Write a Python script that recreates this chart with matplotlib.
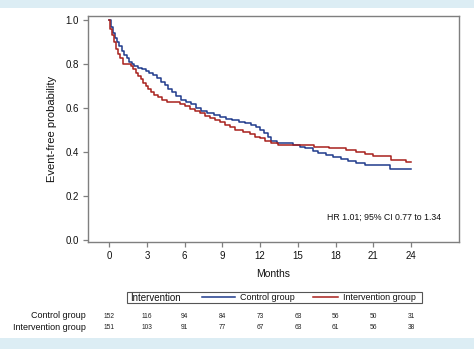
import matplotlib
matplotlib.use("Agg")
import matplotlib.pyplot as plt
from matplotlib.lines import Line2D
from matplotlib.patches import Rectangle
from matplotlib.transforms import blended_transform_factory

plt.rcParams['font.family'] = ['Liberation Sans', 'DejaVu Sans']

# Kaplan-Meier step estimates (months, event-free probability)
control_t = [0, 0.15, 0.3, 0.45, 0.6, 0.8, 1.0, 1.2, 1.4, 1.6, 1.8, 2.0, 2.3, 2.6, 2.9,
             3.2, 3.5, 3.8, 4.1, 4.4, 4.7, 5.0, 5.3, 5.7, 6.1, 6.5, 6.9, 7.3, 7.8, 8.3,
             8.8, 9.3, 9.8, 10.3, 10.8, 11.3, 11.7, 12.0, 12.3, 12.6, 12.9, 13.3, 14.6,
             15.2, 15.6, 16.2, 16.6, 17.2, 17.8, 18.4, 19.0, 19.6, 20.3, 22.3, 24.0]
control_s = [1.0, 0.97, 0.94, 0.92, 0.90, 0.88, 0.86, 0.84, 0.825, 0.81, 0.80, 0.79, 0.78,
             0.775, 0.768, 0.758, 0.748, 0.734, 0.72, 0.704, 0.688, 0.672, 0.655, 0.638,
             0.628, 0.618, 0.60, 0.585, 0.575, 0.566, 0.558, 0.552, 0.546, 0.538, 0.530,
             0.522, 0.512, 0.500, 0.485, 0.468, 0.452, 0.44, 0.432, 0.424, 0.417, 0.405,
             0.396, 0.386, 0.377, 0.369, 0.36, 0.35, 0.34, 0.325, 0.325]

interv_t = [0, 0.1, 0.25, 0.4, 0.55, 0.7, 0.9, 1.1, 1.7, 1.9, 2.1, 2.3, 2.5, 2.7, 2.9, 3.1,
            3.3, 3.6, 3.9, 4.2, 4.6, 5.6, 6.0, 6.4, 6.8, 7.2, 7.6, 8.0, 8.4, 8.8, 9.2, 9.6,
            10.0, 10.6, 11.2, 11.6, 12.0, 12.4, 12.9, 13.4, 16.3, 17.5, 18.8, 19.6, 20.3,
            21.0, 22.4, 23.6, 24.0]
interv_s = [1.0, 0.96, 0.93, 0.90, 0.87, 0.845, 0.825, 0.80, 0.79, 0.775, 0.76, 0.745, 0.73,
            0.715, 0.70, 0.685, 0.672, 0.66, 0.648, 0.636, 0.626, 0.618, 0.607, 0.597,
            0.587, 0.577, 0.565, 0.555, 0.545, 0.535, 0.524, 0.513, 0.500, 0.490, 0.480,
            0.470, 0.462, 0.448, 0.440, 0.430, 0.424, 0.417, 0.41, 0.40, 0.39, 0.38, 0.365,
            0.355, 0.355]

x_ticks = [0, 3, 6, 9, 12, 15, 18, 21, 24]
y_ticks = [0.0, 0.2, 0.4, 0.6, 0.8, 1.0]

# Number at risk
risk_control = [152, 116, 94, 84, 73, 63, 56, 50, 31]
risk_interv = [151, 103, 91, 77, 67, 63, 61, 56, 38]

blue = '#1f3a8c'
red = '#a8201c'
spine_gray = '#7f7f7f'
band = '#dcedf4'

W, H = 474, 349
fig = plt.figure(figsize=(W / 100, H / 100), dpi=100)

def fx(px):
    return px / W

def fy(py):
    return 1 - py / H

# decorative bands at top and bottom
fig.patches.append(Rectangle((0, fy(8)), 1, 8 / H, transform=fig.transFigure,
                             facecolor=band, edgecolor='none', zorder=0))
fig.patches.append(Rectangle((0, 0), 1, (H - 338) / H, transform=fig.transFigure,
                             facecolor=band, edgecolor='none', zorder=0))

ax = fig.add_axes([fx(88), fy(242), fx(459) - fx(88), fy(16) - fy(242)])
ax.step(control_t, control_s, where='post', color=blue, lw=1.1)
ax.step(interv_t, interv_s, where='post', color=red, lw=1.1)

ax.set_xlim(-1.68, 27.8)
ax.set_ylim(-0.009, 1.018)
ax.set_xticks(x_ticks)
ax.set_xticklabels([str(v) for v in x_ticks])
ax.set_yticks(y_ticks)
ax.set_yticklabels([f'{v:.1f}' for v in y_ticks])
for s in ax.spines.values():
    s.set_color(spine_gray)
    s.set_linewidth(1.0)
ax.tick_params(axis='both', direction='out', length=3.5, width=0.9, color=spine_gray,
               labelsize=7, pad=3, labelcolor='#111111')
ax.set_xlabel('Months', fontsize=7.5, labelpad=6, color='#111111')
ax.set_ylabel('Event-free probability', fontsize=8, labelpad=6, color='#111111')

ax.text(26.4, 0.105, 'HR 1.01; 95% CI 0.77 to 1.34', ha='right', va='center',
        fontsize=6.3, color='#111111')

# legend box drawn below the axis
fig.patches.append(Rectangle((fx(127), fy(302.5)), fx(422) - fx(127), fy(291.5) - fy(302.5),
                             transform=fig.transFigure, facecolor='white',
                             edgecolor='#555555', lw=0.8))
ly = fy(297)
fig.text(fx(130.5), ly, 'Intervention', ha='left', va='center_baseline', fontsize=7, color='#111111')
fig.add_artist(Line2D([fx(202), fx(235)], [ly, ly], transform=fig.transFigure, color=blue, lw=1.1))
fig.text(fx(240), ly, 'Control group', ha='left', va='center_baseline', fontsize=6.5, color='#111111')
fig.add_artist(Line2D([fx(313), fx(338)], [ly, ly], transform=fig.transFigure, color=red, lw=1.1))
fig.text(fx(343), ly, 'Intervention group', ha='left', va='center_baseline', fontsize=6.5, color='#111111')

# number-at-risk table aligned with the month ticks
tr = blended_transform_factory(ax.transData, fig.transFigure)
for label, vals, py in [('Control group', risk_control, 316),
                        ('Intervention group', risk_interv, 327.5)]:
    fig.text(fx(86), fy(py), label, ha='right', va='center', fontsize=6.5, color='#111111')
    for t, v in zip(x_ticks, vals):
        ax.text(t, fy(py), str(v), transform=tr, ha='center', va='center',
                fontsize=4.8, color='#222222', clip_on=False)

fig.savefig('out.png', dpi=100)
